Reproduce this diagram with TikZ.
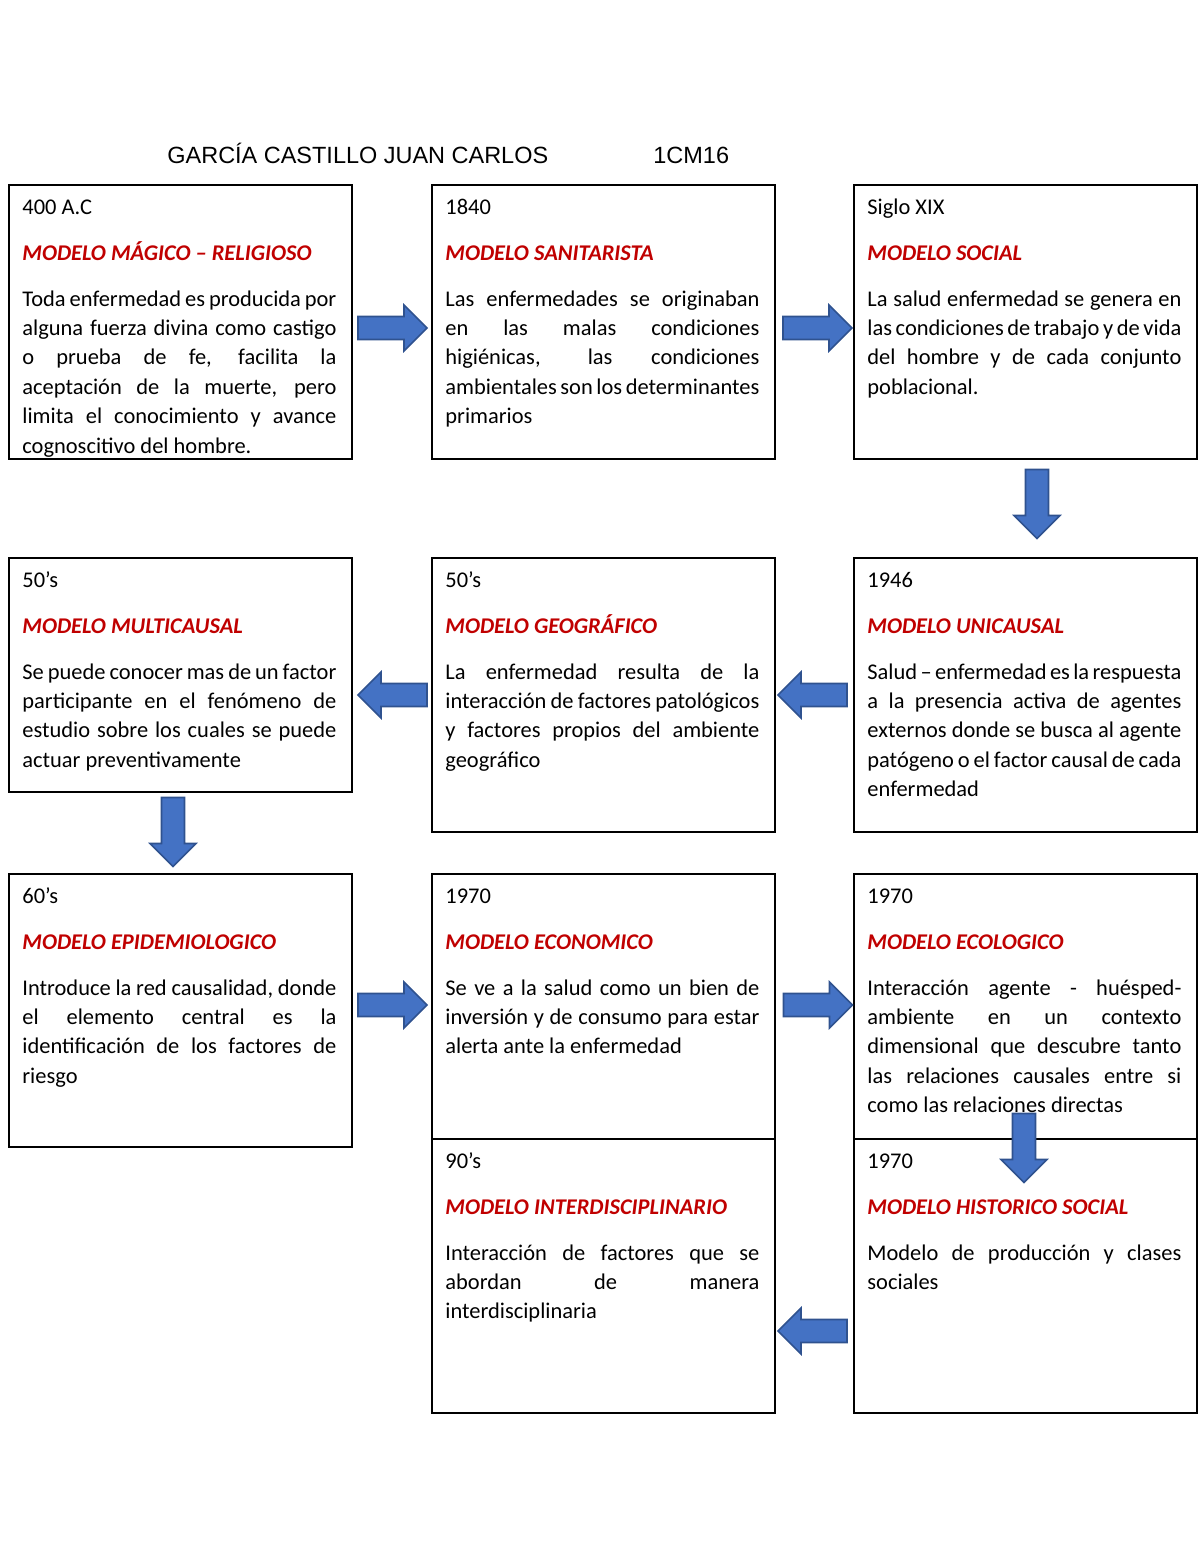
\documentclass[tikz,border=0pt]{standalone}
\usepackage{fontspec}
\usepackage{tikz}
\setmainfont{Carlito}
\newfontfamily\arial{Liberation Sans}
\definecolor{rojo}{HTML}{C00000}
\definecolor{azul}{HTML}{4472C4}
\definecolor{azulborde}{HTML}{2F528F}
\newcommand{\px}{0.49pt}
\newcommand{\titulo}[1]{{\color{rojo}\bfseries\itshape #1}}
\newcommand{\inicio}{\spaceskip=0.226em plus 0.8em minus 0.13em\relax\leavevmode\rule{0pt}{9pt}}
\setlength{\parindent}{0pt}
\tolerance=9999
\hbadness=10000
\hfuzz=20pt
\tikzset{
	caja/.style={draw,line width=1pt,anchor=north west,inner sep=0pt,minimum width=343*\px},
	texto/.style={anchor=north west,inner sep=0pt,text width=314*\px,align=justify,
		font=\fontsize{11}{14.4}\selectfont\setlength{\parskip}{8pt}},
	flecha/.style={fill=azul,draw=azulborde,line width=0.8pt}
}

\begin{document}
\begin{tikzpicture}[x=0.49pt,y=-0.49pt]
		\useasboundingbox (0,0) rectangle (1200,1553);
		\node[anchor=base west,inner sep=0pt,font=\arial\fontsize{11.5}{14}\selectfont] (nombre) at (167,163) {GARCÍA CASTILLO JUAN CARLOS};
		\node[anchor=base west,inner sep=0pt,font=\arial\fontsize{11.5}{14}\selectfont] (grupo) at (653,163) {1CM16};

		% cajas
		\node[caja,minimum height=274*\px] (m1) at (8,184) {};
		\node[caja,minimum height=274*\px] (m2) at (431,184) {};
		\node[caja,minimum height=274*\px] (m3) at (853,184) {};
		\node[caja,minimum height=234*\px] (m4) at (8,557) {};
		\node[caja,minimum height=274*\px] (m5) at (431,557) {};
		\node[caja,minimum height=274*\px] (m6) at (853,557) {};
		\node[caja,minimum height=273*\px] (m7) at (8,873) {};
		\node[caja,minimum height=265*\px] (m8) at (431,873) {};
		\node[caja,minimum height=265*\px] (m9) at (853,873) {};
		\node[caja,minimum height=274*\px] (m10) at (431,1138) {};
		\node[caja,minimum height=274*\px] (m11) at (853,1138) {};

		% textos
		\node[texto] (t1) at ([shift={(14,12)}]m1.north west) {\inicio 400 A.C\par\titulo{MODELO MÁGICO – RELIGIOSO}\par
			Toda enfermedad es producida por\linebreak alguna fuerza divina como castigo\linebreak o prueba de fe, facilita la\linebreak aceptación de la muerte, pero\linebreak limita el conocimiento y avance\linebreak cognoscitivo del hombre.};
		\node[texto] (t2) at ([shift={(14,12)}]m2.north west) {\inicio 1840\par\titulo{MODELO SANITARISTA}\par
			Las enfermedades se originaban\linebreak en las malas condiciones\linebreak higiénicas, las condiciones\linebreak ambientales son los determinantes\linebreak primarios};
		\node[texto] (t3) at ([shift={(14,12)}]m3.north west) {\inicio Siglo XIX\par\titulo{MODELO SOCIAL}\par
			La salud enfermedad se genera en\linebreak las condiciones de trabajo y de vida\linebreak del hombre y de cada conjunto\linebreak poblacional.};
		\node[texto] (t4) at ([shift={(14,12)}]m4.north west) {\inicio 50’s\par\titulo{MODELO MULTICAUSAL}\par
			Se puede conocer mas de un factor\linebreak participante en el fenómeno de\linebreak estudio sobre los cuales se puede\linebreak actuar preventivamente};
		\node[texto] (t5) at ([shift={(14,12)}]m5.north west) {\inicio 50’s\par\titulo{MODELO GEOGRÁFICO}\par
			La enfermedad resulta de la\linebreak interacción de factores patológicos\linebreak y factores propios del ambiente\linebreak geográfico};
		\node[texto] (t6) at ([shift={(14,12)}]m6.north west) {\inicio 1946\par\titulo{MODELO UNICAUSAL}\par
			Salud – enfermedad es la respuesta\linebreak a la presencia activa de agentes\linebreak externos donde se busca al agente\linebreak patógeno o el factor causal de cada\linebreak enfermedad};
		\node[texto] (t7) at ([shift={(14,12)}]m7.north west) {\inicio 60’s\par\titulo{MODELO EPIDEMIOLOGICO}\par
			Introduce la red causalidad, donde\linebreak el elemento central es la\linebreak identificación de los factores de\linebreak riesgo};
		\node[texto] (t8) at ([shift={(14,12)}]m8.north west) {\inicio 1970\par\titulo{MODELO ECONOMICO}\par
			Se ve a la salud como un bien de\linebreak inversión y de consumo para estar\linebreak alerta ante la enfermedad};
		\node[texto] (t9) at ([shift={(14,12)}]m9.north west) {\inicio 1970\par\titulo{MODELO ECOLOGICO}\par
			Interacción agente - huésped-\linebreak ambiente en un contexto\linebreak dimensional que descubre tanto\linebreak las relaciones causales entre si\linebreak como las relaciones directas};
		\node[texto] (t10) at ([shift={(14,12)}]m10.north west) {\inicio 90’s\par\titulo{MODELO INTERDISCIPLINARIO}\par
			Interacción de factores que se\linebreak abordan de manera\linebreak interdisciplinaria};
		\node[texto] (t11) at ([shift={(14,12)}]m11.north west) {\inicio 1970\par\titulo{MODELO HISTORICO SOCIAL}\par
			Modelo de producción y clases\linebreak sociales};

		% flechas
		\foreach \x/\y/\a in {392.5/328/0, 817.5/328/0, 1037/504/-90, 812.5/695/180, 392.5/695/180,
			173/832/-90, 392.5/1005/0, 818/1005/0, 1024/1148/-90, 812.5/1331/180}
			\draw[flecha,shift={(\x,\y)},rotate=\a] (-34.5,-11.5) -- (11.5,-11.5) -- (11.5,-23) -- (34.5,0)
				-- (11.5,23) -- (11.5,11.5) -- (-34.5,11.5) -- cycle;
\end{tikzpicture}
\end{document}
